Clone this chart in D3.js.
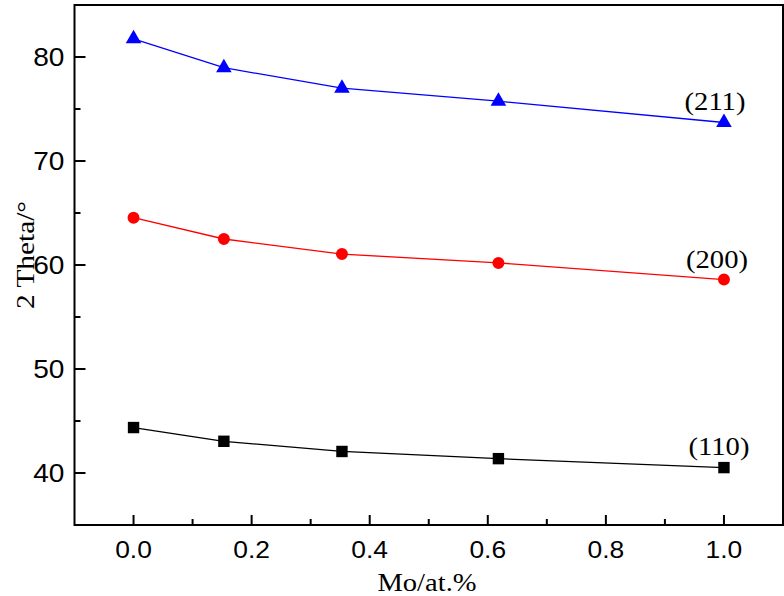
<!DOCTYPE html>
<html><head><meta charset="utf-8">
<script src="https://cdn.jsdelivr.net/npm/d3@7"></script>
<style>body{margin:0;background:#fff}</style>
</head><body>
<svg id="c" width="784" height="596"></svg>
<script>
const moContent = [0.0, 0.153, 0.353, 0.618, 1.0];
const peak110 = [44.37, 43.05, 42.07, 41.38, 40.52];
const peak200 = [64.55, 62.5, 61.05, 60.2, 58.6];
const peak211 = [81.75, 78.97, 77.0, 75.75, 73.7];
const seriesNames = ["(110)", "(200)", "(211)"];
const xTicks = [0.0, 0.2, 0.4, 0.6, 0.8, 1.0];
const yTicks = [40, 50, 60, 70, 80];

const svg = d3.select("#c");
const L = 74.5, R = 783, T = 5, B = 525;
const x = d3.scaleLinear().domain([-0.1, 1.1]).range([L, R]);
const y = d3.scaleLinear().domain([35, 85]).range([B, T]);
const SANS = "Liberation Sans, Arial, sans-serif";
const SERIF = "Liberation Serif, Times New Roman, serif";

svg.append("rect").attr("x", L).attr("y", T).attr("width", R - L).attr("height", B - T)
  .attr("fill", "none").attr("stroke", "#000").attr("stroke-width", 2);

const gx = svg.append("g").attr("transform", `translate(0,${B})`);
const xMinor = [0.1, 0.3, 0.5, 0.7, 0.9];
gx.selectAll(".mj").data(xTicks).join("line")
  .attr("x1", d => x(d)).attr("x2", d => x(d)).attr("y1", 0).attr("y2", -10)
  .attr("stroke", "#000").attr("stroke-width", 2);
gx.selectAll(".mn").data(xMinor).join("line")
  .attr("x1", d => x(d)).attr("x2", d => x(d)).attr("y1", 0).attr("y2", -6)
  .attr("stroke", "#000").attr("stroke-width", 2);
gx.selectAll("text").data(xTicks).join("text")
  .attr("transform", d => `translate(${x(d)},32.5) scale(1.1,1)`).attr("text-anchor", "middle")
  .attr("font-family", SANS).attr("font-size", 24)
  .text(d => d3.format(".1f")(d));

const gy = svg.append("g").attr("transform", `translate(${L},0)`);
const yMinor = [45, 55, 65, 75];
gy.selectAll(".mj").data(yTicks).join("line")
  .attr("y1", d => y(d)).attr("y2", d => y(d)).attr("x1", 0).attr("x2", 11)
  .attr("stroke", "#000").attr("stroke-width", 2);
gy.selectAll(".mn").data(yMinor).join("line")
  .attr("y1", d => y(d)).attr("y2", d => y(d)).attr("x1", 0).attr("x2", 6)
  .attr("stroke", "#000").attr("stroke-width", 2);
gy.selectAll("text").data(yTicks).join("text")
  .attr("transform", d => `translate(-10,${y(d) + 8.5}) scale(1.06,1)`).attr("text-anchor", "end")
  .attr("font-family", SANS).attr("font-size", 26.5)
  .text(d => d);

svg.append("text").attr("transform", "translate(427,591) scale(1.12,1)").attr("text-anchor", "middle")
  .attr("font-family", SERIF).attr("font-size", 25.5)
  .text("Mo/at.%");
svg.append("text").attr("transform", "translate(34,255) rotate(-90) scale(1.15,1)").attr("text-anchor", "middle")
  .attr("font-family", SERIF).attr("font-size", 25.5)
  .text("2 Theta/°");

const series = [
  {vals: peak110, color: "#000000", sym: d3.symbolSquare, size: 130, name: seriesNames[0], lx: 719, ly: 455},
  {vals: peak200, color: "#ff0000", sym: d3.symbolCircle, size: 113, name: seriesNames[1], lx: 717, ly: 268},
  {vals: peak211, color: "#0000ff", sym: d3.symbolTriangle, size: 105, name: seriesNames[2], lx: 715, ly: 110}
];
const line = d3.line().x(d => x(d[0])).y(d => y(d[1]));
series.forEach(s => {
  const pts = moContent.map((m, i) => [m, s.vals[i]]);
  svg.append("path").datum(pts).attr("d", line).attr("fill", "none")
    .attr("stroke", s.color).attr("stroke-width", 1.3);
  svg.append("g").selectAll("path").data(pts).join("path")
    .attr("transform", d => `translate(${x(d[0])},${y(d[1])})`)
    .attr("d", d3.symbol().type(s.sym).size(s.size)).attr("fill", s.color);
  svg.append("text").attr("transform", `translate(${s.lx},${s.ly}) scale(1.1,1)`).attr("text-anchor", "middle")
    .attr("font-family", SERIF).attr("font-size", 26)
    .text(s.name);
});
</script>
</body></html>
